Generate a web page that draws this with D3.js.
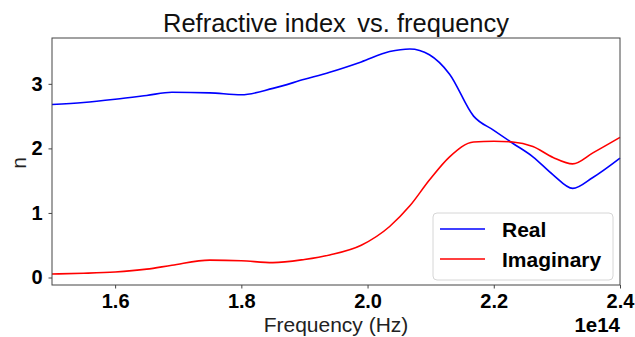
<!DOCTYPE html>
<html>
<head>
<meta charset="utf-8">
<script src="https://cdn.jsdelivr.net/npm/d3@7"></script>
<style>
  html, body { margin: 0; padding: 0; background: #fff; }
  svg text { font-family: "Liberation Sans", Arial, sans-serif; }
</style>
</head>
<body>
<svg id="chart" width="635" height="337"></svg>
<script>
// Frequency in units of 1e14 Hz
const freq = [1.50, 1.55, 1.60, 1.65, 1.69, 1.75, 1.80, 1.85, 1.90, 1.94, 1.99, 2.035, 2.067, 2.098, 2.13, 2.168, 2.20, 2.23, 2.262, 2.294, 2.325, 2.357, 2.40];
const realN = [2.68, 2.71, 2.76, 2.82, 2.87, 2.86, 2.83, 2.93, 3.07, 3.18, 3.34, 3.50, 3.54, 3.45, 3.15, 2.50, 2.28, 2.08, 1.87, 1.59, 1.38, 1.55, 1.85];
const imagN = [0.054, 0.065, 0.085, 0.13, 0.19, 0.27, 0.26, 0.23, 0.28, 0.35, 0.50, 0.79, 1.11, 1.51, 1.87, 2.10, 2.11, 2.10, 2.03, 1.86, 1.76, 1.93, 2.17];
const xTicks = [1.6, 1.8, 2.0, 2.2, 2.4];
const yTicks = [0, 1, 2, 3];
const seriesNames = ["Real", "Imaginary"];
const seriesColors = ["#0000ff", "#ff0000"];

const svg = d3.select("#chart");
const margin = { left: 52, top: 38, right: 15, bottom: 52 };
const W = 635, H = 337;

const x = d3.scaleLinear().domain([1.5, 2.4]).range([margin.left, W - margin.right]);
const y = d3.scaleLinear().domain([-0.116, 3.71]).range([H - margin.bottom, margin.top]);

// Title (a wider gap before "vs.")
const title = svg.append("text")
  .attr("x", 163)
  .attr("y", 32)
  .attr("font-size", 25.5)
  .attr("fill", "#111");
title.append("tspan").text("Refractive index");
title.append("tspan").attr("dx", 11.5).text("vs. frequency");

// Lines
const line = vals => d3.line()
  .x((d, i) => x(freq[i]))
  .y(d => y(d))
  .curve(d3.curveMonotoneX)(vals);

const plot = svg.append("g");
[realN, imagN].forEach((vals, k) => {
  plot.append("path")
    .attr("d", line(vals))
    .attr("fill", "none")
    .attr("stroke", seriesColors[k])
    .attr("stroke-width", 1.6);
});

// Axes
const xAxis = d3.axisBottom(x).tickValues(xTicks).tickFormat(d3.format(".1f")).tickSize(3.5).tickPadding(5);
const yAxis = d3.axisLeft(y).tickValues(yTicks).tickFormat(d3.format("d")).tickSize(3.5).tickPadding(6);

const gx = svg.append("g").attr("transform", `translate(0,${H - margin.bottom})`).call(xAxis);
const gy = svg.append("g").attr("transform", `translate(${margin.left},0)`).call(yAxis);
[gx, gy].forEach(g => {
  g.select(".domain").remove();
  g.selectAll(".tick line").attr("stroke", "#444");
  g.selectAll(".tick text").attr("font-size", 20).attr("font-weight", "bold").attr("fill", "#000")
    .style("font-family", "'Liberation Sans', Arial, sans-serif");
});

// Frame
svg.append("rect")
  .attr("x", x.range()[0]).attr("y", y.range()[1])
  .attr("width", x.range()[1] - x.range()[0])
  .attr("height", y.range()[0] - y.range()[1])
  .attr("fill", "none").attr("stroke", "#444").attr("stroke-width", 1);

// Axis labels
svg.append("text")
  .attr("x", (x.range()[0] + x.range()[1]) / 2)
  .attr("y", 332)
  .attr("text-anchor", "middle")
  .attr("font-size", 21)
  .attr("fill", "#222")
  .text("Frequency (Hz)");

svg.append("text")
  .attr("x", x.range()[1])
  .attr("y", 332)
  .attr("text-anchor", "end")
  .attr("font-size", 20.5)
  .attr("font-weight", "bold")
  .attr("fill", "#000")
  .text("1e14");

svg.append("text")
  .attr("transform", `translate(26,163) rotate(-90)`)
  .attr("text-anchor", "middle")
  .attr("font-size", 21)
  .attr("fill", "#222")
  .text("n");

// Legend
const lg = svg.append("g").attr("transform", "translate(433,213)");
lg.append("rect")
  .attr("width", 180).attr("height", 67)
  .attr("rx", 4).attr("ry", 4)
  .attr("fill", "#fff").attr("fill-opacity", 0.8)
  .attr("stroke", "#d6d6d6").attr("stroke-width", 1);
seriesNames.forEach((name, i) => {
  const ly = 16 + i * 30;
  lg.append("line")
    .attr("x1", 7).attr("x2", 52).attr("y1", ly).attr("y2", ly)
    .attr("stroke", seriesColors[i]).attr("stroke-width", 1.6);
  lg.append("text")
    .attr("x", 69).attr("y", ly + 7.5)
    .attr("font-size", 21).attr("font-weight", "bold").attr("fill", "#000")
    .text(name);
});
</script>
</body>
</html>
